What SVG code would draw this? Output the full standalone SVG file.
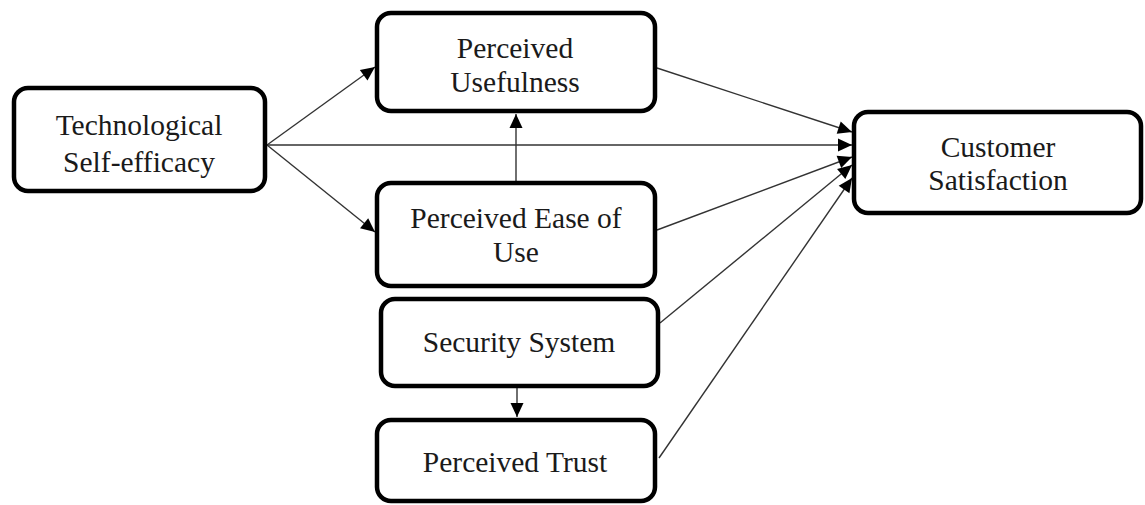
<svg xmlns="http://www.w3.org/2000/svg" width="1145" height="505" viewBox="0 0 1145 505">
  <style>
    .box { fill: #ffffff; stroke: #000000; stroke-width: 4.5; }
    .label { font-family: 'Liberation Serif', 'Tinos', 'Noto Serif', 'DejaVu Serif', serif; font-size: 29.5px; fill: #1a1a1a; text-anchor: middle; }
    .edge { stroke: #333333; stroke-width: 1.4; fill: none; marker-end: url(#arrow); }
  </style>
  <defs>
    <marker id="arrow" markerUnits="userSpaceOnUse" markerWidth="16" markerHeight="16" viewBox="0 0 16 16" refX="15" refY="8" orient="auto">
      <path d="M1,1.5 L15,8 L1,14.5 Z" fill="#000000"/>
    </marker>
  </defs>

  <rect width="1145" height="505" fill="#ffffff"/>

  <!-- connectors -->
  <g id="connectors">
    <line class="edge" x1="267" y1="145" x2="375" y2="67"/>
    <line class="edge" x1="267" y1="145" x2="375" y2="232"/>
    <line class="edge" x1="267" y1="145" x2="852" y2="145"/>
    <line class="edge" x1="516" y1="181" x2="516" y2="114"/>
    <line class="edge" x1="657" y1="68" x2="852" y2="132"/>
    <line class="edge" x1="657" y1="230" x2="852" y2="157"/>
    <line class="edge" x1="660" y1="323" x2="852" y2="165"/>
    <line class="edge" x1="659" y1="458" x2="852" y2="178"/>
    <line class="edge" x1="517" y1="387" x2="517" y2="417"/>
  </g>

  <g id="tech-self-efficacy">
    <rect class="box" x="14" y="88" width="251" height="103" rx="14"/>
    <text class="label" x="139" y="135" font-family="Liberation Serif, serif">Technological</text>
    <text class="label" x="139" y="172" font-family="Liberation Serif, serif">Self-efficacy</text>
  </g>

  <g id="perceived-usefulness">
    <rect class="box" x="377" y="13" width="278" height="98" rx="14"/>
    <text class="label" x="515" y="58">Perceived</text>
    <text class="label" x="515" y="92">Usefulness</text>
  </g>

  <g id="perceived-ease-of-use">
    <rect class="box" x="377" y="183" width="278" height="103" rx="14"/>
    <text class="label" x="516" y="228">Perceived Ease of</text>
    <text class="label" x="516" y="262">Use</text>
  </g>

  <g id="security-system">
    <rect class="box" x="381" y="299" width="277" height="87" rx="14"/>
    <text class="label" x="519" y="352">Security System</text>
  </g>

  <g id="perceived-trust">
    <rect class="box" x="377" y="420" width="278" height="81" rx="14"/>
    <text class="label" x="515" y="472">Perceived Trust</text>
  </g>

  <g id="customer-satisfaction">
    <rect class="box" x="854" y="112" width="287" height="101" rx="14"/>
    <text class="label" x="998" y="157">Customer</text>
    <text class="label" x="998" y="190">Satisfaction</text>
  </g>
</svg>
